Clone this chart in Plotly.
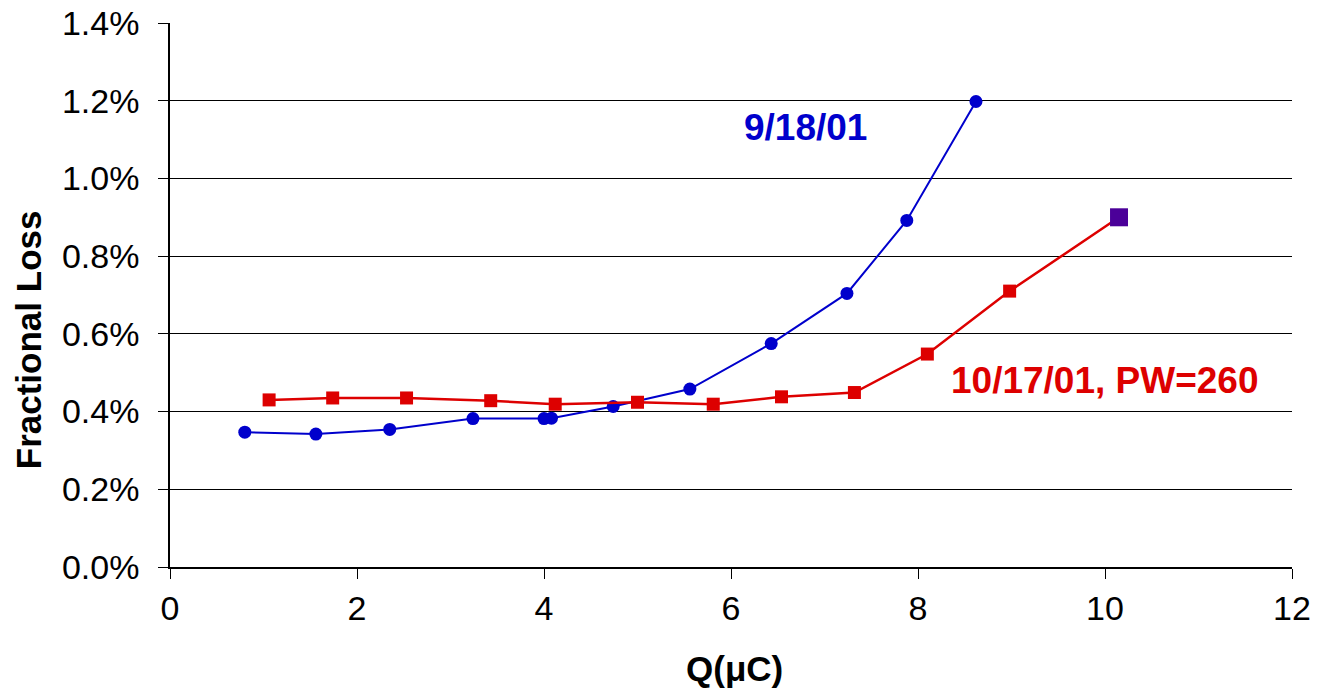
import plotly.graph_objects as go

# Run of 9/18/01: charge (µC) vs fractional loss
q_0918 = [0.80, 1.56, 2.35, 3.24, 4.00, 4.08, 4.74, 5.56, 6.43, 7.24, 7.88, 8.62]
loss_0918 = [0.00347, 0.00342, 0.00354, 0.00382, 0.00382, 0.00383, 0.00413,
             0.00458, 0.00575, 0.00704, 0.00892, 0.01198]

# Run of 10/17/01, PW=260
q_1017 = [1.06, 1.74, 2.53, 3.43, 4.12, 5.00, 5.81, 6.54, 7.32, 8.10, 8.98, 10.15]
loss_1017 = [0.00430, 0.00435, 0.00435, 0.00428, 0.00419, 0.00424, 0.00419,
             0.00438, 0.00449, 0.00548, 0.00710, 0.00900]

x_ticks = [0, 2, 4, 6, 8, 10, 12]
y_ticks = [0, 0.002, 0.004, 0.006, 0.008, 0.010, 0.012, 0.014]

BLUE = "#0000CC"
RED = "#DD0000"
PURPLE = "#4B0099"
FONT = "Liberation Sans, Arial, sans-serif"

fig = go.Figure()

fig.add_trace(go.Scatter(
    x=q_0918, y=loss_0918, mode="lines+markers",
    line=dict(color=BLUE, width=2),
    marker=dict(symbol="circle", size=13, color=BLUE, opacity=1,
                line=dict(width=0)),
    showlegend=False,
))

# last point of the 10/17 series gets its own larger purple marker
marker_colors = [RED] * (len(q_1017) - 1) + [PURPLE]
marker_sizes = [13] * (len(q_1017) - 1) + [18]
fig.add_trace(go.Scatter(
    x=q_1017, y=loss_1017, mode="lines+markers",
    line=dict(color=RED, width=2.5),
    marker=dict(symbol="square", size=marker_sizes, color=marker_colors, opacity=1,
                line=dict(width=0)),
    showlegend=False,
))

fig.add_annotation(x=6.8, y=0.01132, text="<b>9/18/01</b>", showarrow=False,
                   xanchor="center", yanchor="middle",
                   font=dict(family=FONT, size=37, color=BLUE))
fig.add_annotation(x=10.00, y=0.00479, text="<b>10/17/01, PW=260</b>", showarrow=False,
                   xanchor="center", yanchor="middle",
                   font=dict(family=FONT, size=37, color=RED))

# axis titles
fig.add_annotation(xref="paper", yref="paper", x=-0.1265, y=0.417,
                   text="<b>Fractional Loss</b>", textangle=-90, showarrow=False,
                   xanchor="center", yanchor="middle",
                   font=dict(family=FONT, size=35, color="black"))
fig.add_annotation(xref="paper", yref="paper", x=0.5033, y=-0.187,
                   text="<b>Q(\u03bcC)</b>", showarrow=False,
                   xanchor="center", yanchor="middle",
                   font=dict(family=FONT, size=35, color="black"))

fig.update_xaxes(
    range=[0, 12], tickvals=x_ticks, ticktext=[str(v) for v in x_ticks],
    showgrid=False, zeroline=False, automargin=False,
    showline=True, linecolor="black", linewidth=1.5,
    ticks="outside", ticklen=10, tickcolor="black", tickwidth=1,
    tickfont=dict(family=FONT, size=34, color="black"),
)
fig.update_yaxes(
    range=[0, 0.014], tickvals=y_ticks, tickformat=".1%",
    showgrid=True, gridcolor="black", gridwidth=1, zeroline=False, automargin=False,
    showline=True, linecolor="black", linewidth=1.5,
    ticks="outside", ticklen=10, tickcolor="black", tickwidth=1,
    ticklabelstandoff=12,
    tickfont=dict(family=FONT, size=34, color="black"),
)

fig.update_layout(
    width=1319, height=689,
    margin=dict(l=170, r=27, t=23, b=122),
    paper_bgcolor="white", plot_bgcolor="white",
)

fig.write_html("out.html")
